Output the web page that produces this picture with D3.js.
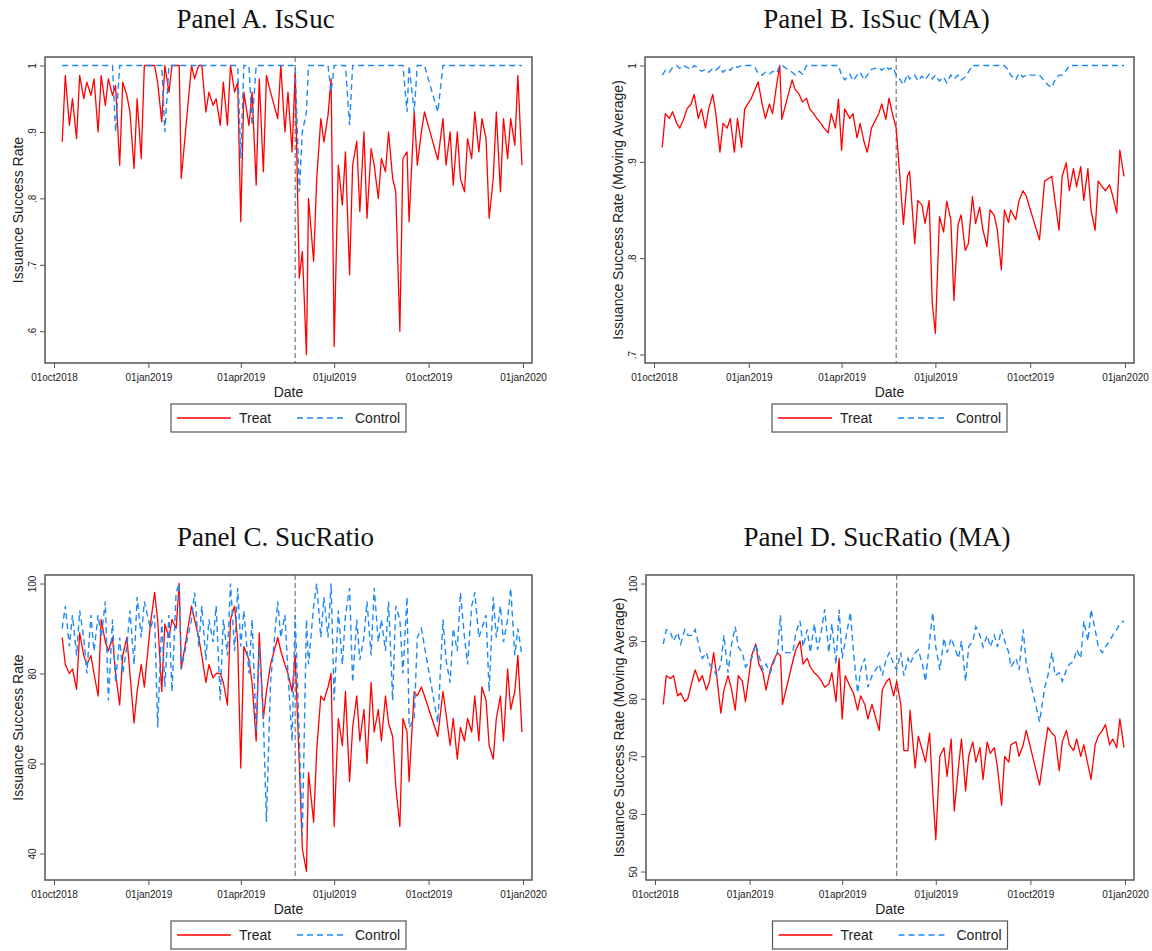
<!DOCTYPE html>
<html>
<head>
<meta charset="utf-8">
<script src="https://cdn.jsdelivr.net/npm/d3@7"></script>
<style>
  body { margin: 0; background: #fff; }
  svg { display: block; }
</style>
</head>
<body>
<div id="chart"></div>
<script>
var dates = ["2018-10-09","2018-10-12","2018-10-16","2018-10-19","2018-10-23","2018-10-26","2018-10-30",
  "2018-11-02","2018-11-06","2018-11-09","2018-11-13","2018-11-16","2018-11-20","2018-11-23","2018-11-27","2018-11-30",
  "2018-12-04","2018-12-07","2018-12-11","2018-12-14","2018-12-18","2018-12-21","2018-12-25","2018-12-28",
  "2019-01-03","2019-01-07","2019-01-10","2019-01-14","2019-01-17","2019-01-21","2019-01-24","2019-01-28","2019-01-31",
  "2019-02-02","2019-02-12","2019-02-15","2019-02-19","2019-02-22","2019-02-26",
  "2019-03-01","2019-03-05","2019-03-08","2019-03-12","2019-03-15","2019-03-19","2019-03-22","2019-03-26","2019-03-29",
  "2019-04-01","2019-04-04","2019-04-09","2019-04-12","2019-04-16","2019-04-19","2019-04-23","2019-04-26","2019-04-30",
  "2019-05-07","2019-05-10","2019-05-14","2019-05-17","2019-05-21","2019-05-24","2019-05-28","2019-05-31",
  "2019-06-04","2019-06-06","2019-06-11","2019-06-14","2019-06-18","2019-06-21","2019-06-25","2019-06-28",
  "2019-07-01","2019-07-05","2019-07-09","2019-07-12","2019-07-16","2019-07-19","2019-07-23","2019-07-26","2019-07-30",
  "2019-08-02","2019-08-06","2019-08-09","2019-08-13","2019-08-16","2019-08-20","2019-08-23","2019-08-27","2019-08-30",
  "2019-09-03","2019-09-06","2019-09-10","2019-09-12","2019-09-17","2019-09-20","2019-09-24","2019-09-27",
  "2019-10-10","2019-10-15","2019-10-18","2019-10-22","2019-10-25","2019-10-29",
  "2019-11-01","2019-11-05","2019-11-08","2019-11-12","2019-11-15","2019-11-19","2019-11-22","2019-11-26","2019-11-29",
  "2019-12-03","2019-12-06","2019-12-10","2019-12-13","2019-12-17","2019-12-20","2019-12-24","2019-12-27","2019-12-31"];

// Panel A. IsSuc
var aTreat = [.885,.985,.91,.95,.89,.985,.95,.975,.955,.98,
  .90,.985,.94,.98,.955,.97,.85,.975,.955,.93,
  .845,.95,.86,1,1,1,.975,.915,1,.96,
  1,1,1,.83,1,.98,1,1,.93,.96,
  .94,.95,.91,.975,.91,1,.96,.975,.765,.96,
  .91,.96,.82,.98,.84,.985,.96,.92,1,.90,
  .96,.87,.99,.68,.72,.565,.80,.705,.83,.92,
  .885,.925,.98,.577,.85,.79,.87,.685,.85,.886,
  .78,.90,.77,.875,.85,.80,.86,.84,.90,.83,
  .81,.60,.86,.87,.765,.93,.85,.90,.93,.858,
  .92,.85,.90,.82,.90,.83,.81,.89,.86,.93,
  .87,.92,.89,.77,.83,.93,.81,.92,.86,.92,
  .88,.985,.85];
var aCtrl = [1,1,1,1,1,1,1,1,1,1,
  1,1,1,1,1,.90,1,1,1,1,
  1,1,1,1,1,1,1,1,.90,1,
  1,1,1,1,1,1,1,1,1,1,
  1,1,1,1,1,1,1,1,.86,1,
  1,.91,1,1,1,1,1,1,1,1,
  1,1,1,.81,.90,.93,1,1,1,1,
  1,1,.96,1,1,1,1,.91,1,1,
  1,1,1,1,1,1,1,1,1,1,
  1,1,1,.93,1,.93,1,1,1,.93,
  1,1,1,1,1,1,1,1,1,1,
  1,1,1,1,1,1,1,1,1,1,
  1,1,1];

// Panel B. IsSuc (MA)
var bTreat = [.915,.95,.945,.952,.94,.935,.945,.955,.96,.97,
  .945,.955,.935,.955,.97,.95,.91,.94,.935,.945,
  .91,.945,.915,.955,.965,.975,.983,.96,.945,.96,
  .95,.98,1,.944,.985,.975,.97,.962,.966,.955,
  .95,.945,.94,.935,.93,.95,.935,.965,.912,.955,
  .945,.95,.925,.94,.92,.91,.935,.95,.96,.944,
  .966,.947,.935,.878,.835,.885,.89,.815,.86,.855,
  .836,.86,.753,.722,.843,.827,.859,.84,.756,.835,
  .845,.808,.815,.864,.836,.853,.83,.812,.85,.845,
  .83,.788,.85,.837,.85,.84,.859,.87,.865,.819,
  .88,.882,.885,.86,.829,.885,.899,.87,.893,.874,
  .895,.86,.893,.85,.829,.88,.874,.87,.876,.865,
  .847,.912,.885];
var bCtrl = [.99,.995,.993,.998,1,.997,1,.998,.996,1,
  .997,.994,.996,.993,.997,.995,.999,.993,.997,.995,
  1,.998,1,1,1,.998,.992,.99,.993,.991,
  .994,.992,1,1,.993,.99,.994,.991,1,1,
  1,1,1,1,1,1,1,1,.99,.985,
  .991,.984,.99,.993,.985,.99,.996,.998,.995,.999,
  .996,.998,.99,.985,.98,.991,.986,.99,.984,.989,
  .985,.991,.986,.99,.984,.988,.982,.99,.986,.99,
  .985,.988,.993,1,1,1,1,1,1,1,
  1,1,1,.995,.99,.985,.992,.988,.99,.99,
  .984,.98,.977,.985,.99,.99,.995,1,1,1,
  1,1,1,1,1,1,1,1,1,1,
  1,1,1];

// Panel C. SucRatio
var cTreat = [88,82,80,81,76.5,89,84,82,84,80,
  75,92,87,85,88,80,73,84,88,80,
  69,76,82,77,91,98,92,76,91,88,
  92,90,100,81,95,92,88,84,78,82,
  79,80,80,78,73,92,95,87,59,86,
  83,78,65,89,70,76,82,88,85,82,
  80,76,84,60,41,36,58,47,63,75,
  74,77,80,46,70,64,76,56,68,75,
  65,72,60,78,67,72,65,75,69,66,
  55,46,70,67,56,76,75,77,75,66,
  76,71,64,70,61,68,65,70,67,75,
  65,77,74,64,61,70,75,65,81,72,
  76,84,67];
var cCtrl = [90,95,86,93,84,94,88,80,93,85,
  93,88,96,74,92,78,88,80,86,94,
  82,97,88,96,90,93,68,92,77,93,
  76,98,100,81,92,98,86,95,83,92,
  87,95,74,92,84,100,85,99,86,94,
  80,92,67,86,70,47,78,96,88,93,
  80,65,93,66,44,92,82,95,100,88,
  97,88,100,74,94,82,93,99,78,92,
  83,88,96,84,99,87,92,85,96,74,
  95,92,80,97,68,70,88,90,86,69,
  92,83,78,90,85,98,88,82,95,98,
  88,90,93,76,97,88,95,87,92,99,
  84,90,84];

// Panel D. SucRatio (MA)
var dTreat = [79,84,83.5,84,80.5,81,79.5,80,83,85,
  83,84,81.5,83,88,84,77.5,81.5,84,82,
  78,84,83,79.5,87.5,89.5,86,84.5,81.5,85,
  86.5,88,87.5,79,86.5,88.5,90,86,87,85.5,
  84.5,84,83,82,82.5,84.5,79.5,87,76.5,84,
  82,81,78,80.5,79,76.5,79,74.5,81.5,83,
  83.5,80.5,83,79,71,71,78,68,73.5,71,
  69,74,64,55.5,70,71.5,66.5,73,60.5,68,
  73,64,70,72.5,69,71.5,66,72.5,70.5,71.5,
  68,61.5,70,69,72,72.5,70,72,74.5,65,
  71.5,75,74,73.5,67.5,72.5,74.5,72,71,73,
  70,72,68.5,66,72,73.5,74.5,75.5,72,73,
  71.5,76.5,71.5];
var dCtrl = [89.5,92,91.5,90,91.5,89.5,92,91,91,92,
  89,87,88,86,85,84,86,91,84.5,89,
  92.5,89,88,85.5,87,89.5,87.5,85,86,84.5,
  86,88,94.5,88,88,91.5,93.5,89,92,88,
  93,88.5,92,95.5,88,93,86,95.5,87,90,
  95,88,81,85,87,82,84,86,84,87,
  88,86,85,88,84,87,86,88,88.5,86,
  83,90,95,89,85,90.5,88,90.5,89,87,
  90,83,89,90,92.5,91,89,91,89,91,
  89,92,90,88,85.5,87,85,92,86,76,
  82,84,88,84,84.5,83,85,86,86.5,88.5,
  87,93.5,90,95.5,92,89,88,89,90,91,
  92,93,93.5];

var xTicks = ["2018-10-01","2019-01-01","2019-04-01","2019-07-01","2019-10-01","2020-01-01"];
var aTicks = [.6,.7,.8,.9,1];
var bTicks = [.7,.8,.9,1];
var cTicks = [40,60,80,100];
var dTicks = [50,60,70,80,90,100];
var eventDate = "2019-05-24";
var seriesNames = ["Treat","Control"];

// ---- drawing ----
var parseDate = d3.timeParse("%Y-%m-%d");
var red = "#ff0000";
var blue = "#1e88f5";
var boxColor = "#555";
var sans = "'Liberation Sans', Arial, sans-serif";

[aTreat,aCtrl,bTreat,bCtrl,cTreat,cCtrl,dTreat,dCtrl].forEach(function(s, i){
  if (s.length !== dates.length) throw new Error("series " + i + " has " + s.length + " values, expected " + dates.length);
});

var decFmt = function(v){ return v === 1 ? "1" : d3.format(".1f")(v).replace(/^0/, ""); };

// titleShift: the titles sit a little left of the plot box centre
var panels = [
  {title:"Panel A. IsSuc", treat:aTreat, ctrl:aCtrl, ticks:aTicks, fmt:decFmt, titleShift:-33,
   ytitle:"Issuance Success Rate", box:{l:45, t:57, r:532, b:363}},
  {title:"Panel B. IsSuc (MA)", treat:bTreat, ctrl:bCtrl, ticks:bTicks, fmt:decFmt, titleShift:-13,
   ytitle:"Issuance Success Rate (Moving Average)", box:{l:645, t:57, r:1134, b:363}},
  {title:"Panel C. SucRatio", treat:cTreat, ctrl:cCtrl, ticks:cTicks, fmt:d3.format("d"), titleShift:-13,
   ytitle:"Issuance Success Rate", box:{l:45, t:575, r:532, b:880}},
  {title:"Panel D. SucRatio (MA)", treat:dTreat, ctrl:dCtrl, ticks:dTicks, fmt:d3.format("d"), titleShift:-13,
   ytitle:"Issuance Success Rate (Moving Average)", box:{l:646, t:575, r:1134, b:880}}
];

var svg = d3.select("#chart").append("svg")
  .attr("width", 1152)
  .attr("height", 951)
  .style("background", "#fff");

var dateObjs = dates.map(parseDate);
var xTickDates = xTicks.map(parseDate);
var tickFmt = d3.timeFormat("%d%b%Y");

panels.forEach(function(p){
  var bx = p.box;
  var cx = (bx.l + bx.r) / 2;
  var g = svg.append("g");

  // stata pads the plot region by a few pixels around the data/tick range
  var x = d3.scaleTime()
    .domain([xTickDates[0], xTickDates[xTickDates.length - 1]])
    .range([bx.l + 9, bx.r - 9]);
  var all = p.treat.concat(p.ctrl);
  var y = d3.scaleLinear()
    .domain([Math.min(d3.min(all), p.ticks[0]), Math.max(d3.max(all), p.ticks[p.ticks.length - 1])])
    .range([bx.b - 8.5, bx.t + 8.5]);

  // title
  svg.append("text")
    .attr("x", cx + p.titleShift).attr("y", bx.t - 29)
    .attr("text-anchor", "middle")
    .style("font-family", "'Liberation Serif', 'DejaVu Serif', serif")
    .style("font-size", "27px")
    .attr("fill", "#111")
    .text(p.title);

  // event line
  g.append("line")
    .attr("x1", x(parseDate(eventDate))).attr("x2", x(parseDate(eventDate)))
    .attr("y1", bx.t).attr("y2", bx.b)
    .attr("stroke", "#777").attr("stroke-width", 1.2)
    .attr("stroke-dasharray", "5,3");

  var line = d3.line()
    .x(function(d){ return x(d.date); })
    .y(function(d){ return y(d.v); });

  var treatData = p.treat.map(function(v, i){ return {date: dateObjs[i], v: v}; });
  var ctrlData = p.ctrl.map(function(v, i){ return {date: dateObjs[i], v: v}; });

  g.append("path").datum(treatData)
    .attr("d", line)
    .attr("fill", "none").attr("stroke", red)
    .attr("stroke-width", 1.3).attr("stroke-linejoin", "round");
  g.append("path").datum(ctrlData)
    .attr("d", line)
    .attr("fill", "none").attr("stroke", blue)
    .attr("stroke-width", 1.4).attr("stroke-dasharray", "6,4");

  // plot box
  g.append("rect")
    .attr("x", bx.l).attr("y", bx.t)
    .attr("width", bx.r - bx.l).attr("height", bx.b - bx.t)
    .attr("fill", "none").attr("stroke", boxColor).attr("stroke-width", 1.5);

  // y axis, stata style vertical labels
  var ya = g.append("g")
    .attr("transform", "translate(" + bx.l + ",0)")
    .call(d3.axisLeft(y).tickValues(p.ticks).tickSize(5).tickFormat(p.fmt));
  ya.select(".domain").remove();
  ya.selectAll(".tick line").attr("stroke", boxColor);
  ya.selectAll(".tick text")
    .attr("x", null).attr("dy", null)
    .attr("transform", "translate(-9,0) rotate(-90)")
    .attr("text-anchor", "middle")
    .attr("fill", "#222")
    .style("font-family", sans).style("font-size", "10px");

  // x axis
  var xa = g.append("g")
    .attr("transform", "translate(0," + bx.b + ")")
    .call(d3.axisBottom(x).tickValues(xTickDates).tickSize(5).tickPadding(6)
      .tickFormat(function(d){ return tickFmt(d).toLowerCase(); }));
  xa.select(".domain").remove();
  xa.selectAll(".tick line").attr("stroke", boxColor);
  xa.selectAll(".tick text")
    .attr("fill", "#222")
    .style("font-family", sans).style("font-size", "10px");

  // axis titles
  svg.append("text")
    .attr("transform", "translate(" + (bx.l - 22) + "," + ((bx.t + bx.b) / 2) + ") rotate(-90)")
    .attr("text-anchor", "middle")
    .style("font-family", sans).style("font-size", "14px")
    .attr("fill", "#222")
    .text(p.ytitle);
  svg.append("text")
    .attr("x", (bx.l + bx.r) / 2).attr("y", bx.b + 34)
    .attr("text-anchor", "middle")
    .style("font-family", sans).style("font-size", "14px")
    .attr("fill", "#222")
    .text("Date");

  // legend
  var lx = cx - 117.5, ly = bx.b + 41;
  var lg = svg.append("g").attr("transform", "translate(" + lx + "," + ly + ")");
  lg.append("rect")
    .attr("width", 235).attr("height", 28)
    .attr("fill", "#fff").attr("stroke", boxColor).attr("stroke-width", 1.2);
  lg.append("line")
    .attr("x1", 6).attr("x2", 60).attr("y1", 14).attr("y2", 14)
    .attr("stroke", red).attr("stroke-width", 1.3);
  lg.append("text")
    .attr("x", 68).attr("y", 19)
    .style("font-family", sans).style("font-size", "14px").attr("fill", "#222")
    .text(seriesNames[0]);
  lg.append("line")
    .attr("x1", 126).attr("x2", 173).attr("y1", 14).attr("y2", 14)
    .attr("stroke", blue).attr("stroke-width", 1.4).attr("stroke-dasharray", "6,4");
  lg.append("text")
    .attr("x", 184).attr("y", 19)
    .style("font-family", sans).style("font-size", "14px").attr("fill", "#222")
    .text(seriesNames[1]);
});
</script>
</body>
</html>
